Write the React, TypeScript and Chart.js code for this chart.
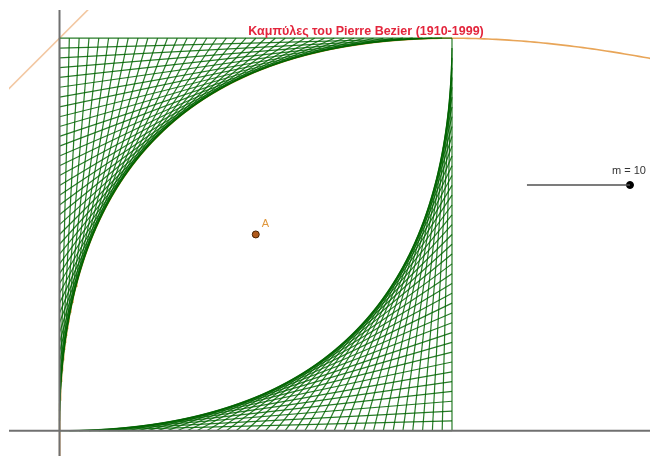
import React, { useEffect, useRef } from "react";
import { Chart, registerables } from "chart.js";
Chart.register(...registerables);

// ---- data ----
const titleText = "Καμπύλες του Pierre Bezier (1910-1999)";
const titlePos = [0.781, 1.017];
const upperCurvePoints = [[0, 0], [0, 1], [1, 1]]; // P0, control, P2
const lowerCurvePoints = [[0, 0], [1, 0], [1, 1]];
const stringCount = [40];
const focusPoint = [0.5, 0.5];
const focusLabel = ["A"];
const directrixLine = [[-0.3, 0.7], [0.2, 1.2]];
const parabolaTRange = [-0.2, 1.3, 0.005];
const sliderXs = [1.191, 1.4535];
const sliderY = [0.626];
const sliderName = ["m"];
const sliderValue = [10];
const viewX = [-0.1287, 1.5045];
const viewY = [-0.0645, 1.0719];

type P = { x: number; y: number };

function stringSegments(pts: number[][], n: number): P[][] {
  const [p0, c, p2] = pts;
  const segs: P[][] = [];
  for (let i = 0; i <= n; i++) {
    const t = i / n;
    const a = { x: p0[0] + t * (c[0] - p0[0]), y: p0[1] + t * (c[1] - p0[1]) };
    const b = { x: c[0] + t * (p2[0] - c[0]), y: c[1] + t * (p2[1] - c[1]) };
    segs.push([a, b]);
  }
  return segs;
}

function bezierPoints(pts: number[][], range: number[]): P[] {
  const [p0, c, p2] = pts;
  const out: P[] = [];
  for (let t = range[0]; t <= range[1] + 1e-9; t += range[2]) {
    const u = 1 - t;
    out.push({
      x: u * u * p0[0] + 2 * t * u * c[0] + t * t * p2[0],
      y: u * u * p0[1] + 2 * t * u * c[1] + t * t * p2[1],
    });
  }
  return out;
}

export default function App() {
  const ref = useRef<HTMLCanvasElement | null>(null);
  useEffect(() => {
    if (!ref.current) return;
    const green = "rgba(0,100,0,0.85)";
    const datasets: any[] = [];
    const lineDs = (data: P[], color: string, width: number) => ({
      data,
      showLine: true,
      borderColor: color,
      borderWidth: width,
      pointRadius: 0,
      fill: false,
      tension: 0,
    });
    // axes
    datasets.push(lineDs([{ x: viewX[0], y: 0 }, { x: viewX[1], y: 0 }], "#707070", 2));
    datasets.push(lineDs([{ x: 0, y: viewY[0] }, { x: 0, y: viewY[1] }], "#707070", 2));
    // string art
    for (const s of stringSegments(upperCurvePoints, stringCount[0])) datasets.push(lineDs(s, green, 1.2));
    for (const s of stringSegments(lowerCurvePoints, stringCount[0])) datasets.push(lineDs(s, green, 1.2));
    // parabola
    datasets.push(lineDs(bezierPoints(upperCurvePoints, parabolaTRange), "rgba(230,155,70,0.9)", 1.6));
    // directrix
    datasets.push(
      lineDs(directrixLine.map((p) => ({ x: p[0], y: p[1] })), "rgba(238,180,130,0.75)", 1.6)
    );
    // slider
    datasets.push(
      lineDs([{ x: sliderXs[0], y: sliderY[0] }, { x: sliderXs[1], y: sliderY[0] }], "#505050", 1.6)
    );
    datasets.push({
      data: [{ x: sliderXs[1], y: sliderY[0] }],
      pointRadius: 3.5,
      backgroundColor: "#000",
      borderColor: "#000",
      borderWidth: 1,
    });
    // focus
    datasets.push({
      data: [{ x: focusPoint[0], y: focusPoint[1] }],
      pointRadius: 3.5,
      backgroundColor: "#b05a1c",
      borderColor: "#4a2200",
      borderWidth: 1,
    });

    const textPlugin = {
      id: "texts",
      afterDraw(chart: any) {
        const ctx = chart.ctx;
        const xs = chart.scales.x;
        const ys = chart.scales.y;
        ctx.save();
        ctx.font = "bold 12.5px 'Liberation Sans', Arial, sans-serif";
        ctx.fillStyle = "#e3253c";
        ctx.textAlign = "center";
        ctx.textBaseline = "middle";
        ctx.fillText(titleText, xs.getPixelForValue(titlePos[0]), ys.getPixelForValue(titlePos[1]));
        // focus label
        ctx.font = "11px 'Liberation Sans', Arial, sans-serif";
        ctx.fillStyle = "#e0973c";
        ctx.textAlign = "left";
        ctx.fillText(
          focusLabel[0],
          xs.getPixelForValue(focusPoint[0]) + 6,
          ys.getPixelForValue(focusPoint[1]) - 10
        );
        // slider label
        ctx.font = "11px 'Liberation Sans', Arial, sans-serif";
        ctx.fillStyle = "#333";
        ctx.textAlign = "center";
        ctx.fillText(
          `${sliderName[0]} = ${sliderValue[0]}`,
          xs.getPixelForValue(sliderXs[1]) - 1,
          ys.getPixelForValue(sliderY[0]) - 14
        );
        ctx.restore();
      },
    };

    const chart = new Chart(ref.current, {
      type: "scatter",
      data: { datasets },
      options: {
        animation: false,
        responsive: false,
        devicePixelRatio: 1,
        layout: { autoPadding: false, padding: { left: 9, top: 10, right: 0, bottom: 0 } },
        scales: {
          x: { type: "linear", min: viewX[0], max: viewX[1], display: false },
          y: { type: "linear", min: viewY[0], max: viewY[1], display: false },
        },
        plugins: { legend: { display: false }, tooltip: { enabled: false }, title: { display: false } },
      },
      plugins: [textPlugin],
    } as any);
    return () => chart.destroy();
  }, []);
  return (
    <div style={{ position: "fixed", left: 0, top: 0, width: 650, height: 456, background: "#fff" }}>
      <canvas ref={ref} width={650} height={456} style={{ display: "block" }} />
    </div>
  );
}
